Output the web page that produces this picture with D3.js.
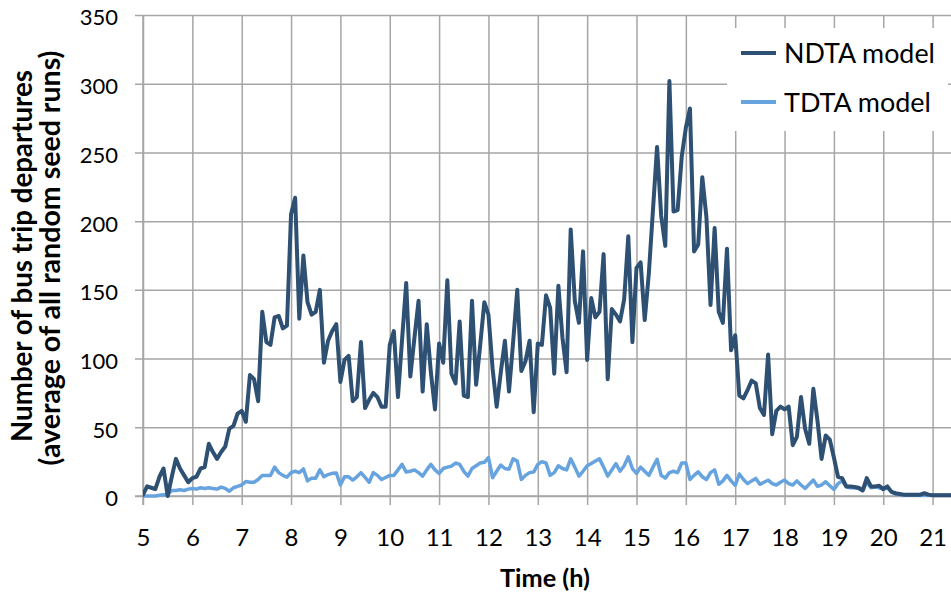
<!DOCTYPE html>
<html><head><meta charset="utf-8">
<script src="https://cdn.jsdelivr.net/npm/d3@7"></script>
<style>
body{margin:0;background:#fff}
svg{display:block}
text{font-family:Lato,"Open Sans",sans-serif;fill:#000}
</style>
</head><body>
<svg id="c" width="951" height="595"></svg>
<script>
// ---- data ----
const xTickLabels = [5,6,7,8,9,10,11,12,13,14,15,16,17,18,19,20,21];
const yTickValues = [0,50,100,150,200,250,300,350];
const seriesNames = ["NDTA model","TDTA model"];
const startHour = 5;          // first 5-minute interval
const stepMinutes = 5;
const ndta = [
1,7,6,5,14,20,0,14,27,20,15,10,13,14,20,21,38,32,27,32,36,49,51,60,
62,54,88,85,69,134,112,110,130,131,122,124,205,217,129,175,141,132,134,150,97,113,120,125,
83,99,102,69,72,112,64,70,75,72,65,65,110,120,72,114,155,87,115,142,76,125,90,63,
111,97,157,89,82,127,73,72,142,81,110,141,132,93,65,90,113,76,112,150,91,98,113,61,
111,110,146,137,89,153,115,90,194,142,126,178,99,144,130,134,176,85,136,132,127,143,189,112,
166,170,128,162,208,254,204,182,302,207,208,247,268,282,178,183,232,203,139,195,134,126,180,106,
117,73,71,77,84,82,64,59,103,45,62,65,63,65,37,43,72,49,38,78,55,27,44,41,
28,14,13,7,7,6.5,6,4,13,7,7,7.5,5,7,3,2,1.5,1,1,1,1,1,2,1,
0.5,0.5,0.5,0.5,0.5,0.5
];
const tdta = [
0,0,0,0,0.5,1,1,4,4,4.5,4,5,5.5,5,6,5.5,6,5.5,5,6.5,5.5,3.5,6,7,
8,10.5,10,10,12,15,15,15,21,17,15,13.7,17,18,17,19.7,11,13,13,19,14,15.6,16.5,16.8,
8,14,14,11.6,14,17,13.5,10,17,15,12,13.5,15,15,19,23,17.4,18,19,17,14.5,19,23,19,
16.5,20,21,21.7,24,23,18,14.5,20,22,24,24.5,28,13.3,18,22.5,20,19.5,27,25.4,12,15,17,17.4,
23,25,24,15,17,22,20,19,27,21,14.5,18,22,23.7,25.5,27,21,14.5,19,23.5,18,22,28.5,20,
16.4,21,18,15,21,26.7,15,13,17,18,17,24,24,12,15,17.5,14,12,17,19,8.5,11,15,11,
7.7,16,12,9,11,12.8,8.5,10,11.5,9,8,10,11.6,9,8,11,8,5.5,8.5,11.6,7,8,10.4,7.5,
4.8,9,11,6.7,6,6,5.5,4,10,6,6.5,6,5,6,3,1.5,1,0.5,0.5,0.5,0.5,0.5,0.5,0.5,
0.5,0.5,0.5,0.5,0.5,0.5
];
const seriesColors = ["#2d5073","#66a3df"];

// ---- chart ----
const svg = d3.select("#c");
const W = 951, H = 595;
const x = d3.scaleLinear().domain([5,21]).range([143,932.6]);
const y = d3.scaleLinear().domain([0,350]).range([496,15]);
const hourOf = i => startHour + i*stepMinutes/60;
const gridColor = "#a6a6a6";
const FONT = "Lato,'Open Sans',sans-serif";

svg.append("defs").append("clipPath").attr("id","clip")
  .append("rect").attr("x",143).attr("y",0).attr("width",W-143).attr("height",500);

// horizontal gridlines + y axis ticks/labels
const gy = svg.append("g").attr("transform","translate(143,0)")
  .call(d3.axisLeft(y).tickValues(yTickValues).tickSizeInner(-(W-143)).tickSizeOuter(0).tickPadding(0));
gy.select(".domain").remove();
gy.selectAll(".tick line").attr("stroke",gridColor).attr("stroke-width",1.5).attr("x1",-8);
gy.selectAll(".tick text").attr("x",-25).attr("dy","0.45em").attr("font-size",22).attr("fill","#000")
  .style("font-family",FONT);

// vertical gridlines + x axis ticks/labels
const gx = svg.append("g").attr("transform","translate(0,496)")
  .call(d3.axisBottom(x).tickValues(xTickLabels).tickSizeInner(9).tickSizeOuter(0).tickFormat(d3.format("d")));
gx.select(".domain").remove();
gx.selectAll(".tick line").attr("stroke",gridColor).attr("stroke-width",1.5).attr("y1",-(496-15));
gx.selectAll(".tick text").attr("y",50).attr("dy",null).attr("font-size",24).attr("fill","#000")
  .style("font-family",FONT);

// axis lines
svg.append("line").attr("x1",135).attr("x2",W).attr("y1",y(0)).attr("y2",y(0))
  .attr("stroke",gridColor).attr("stroke-width",1.5);
svg.append("line").attr("x1",143).attr("x2",143).attr("y1",y(350)).attr("y2",y(0)+9)
  .attr("stroke",gridColor).attr("stroke-width",1.5);

// legend background (hides gridlines)
svg.append("rect").attr("x",727).attr("y",28).attr("width",221).attr("height",103).attr("fill","#fff");

// lines
const line = d3.line().x((d,i)=>x(hourOf(i))).y(d=>y(d));
const plot = svg.append("g").attr("clip-path","url(#clip)");
plot.append("path").datum(tdta).attr("d",line).attr("fill","none")
  .attr("stroke",seriesColors[1]).attr("stroke-width",3.5).attr("stroke-linejoin","round").attr("stroke-linecap","round");
plot.append("path").datum(ndta).attr("d",line).attr("fill","none")
  .attr("stroke",seriesColors[0]).attr("stroke-width",4).attr("stroke-linejoin","round").attr("stroke-linecap","round");

function fitWidth(sel, target){
  const w = sel.node().getComputedTextLength();
  const fs = parseFloat(sel.attr("font-size"));
  sel.attr("font-size", fs*target/w);
}

// legend
const legY = [53,102], legW = [151,147];
seriesNames.forEach((n,k)=>{
  svg.append("line").attr("x1",741).attr("x2",776).attr("y1",legY[k]).attr("y2",legY[k])
    .attr("stroke",seriesColors[k]).attr("stroke-width",4);
  const t = svg.append("text").attr("x",784).attr("y",legY[k]).attr("dy","0.36em")
    .attr("font-size",24).text(n);
  fitWidth(t, legW[k]);
});

// axis titles
const xt = svg.append("text").attr("x",545).attr("y",578).attr("dy","0.35em")
  .attr("text-anchor","middle").attr("font-weight","bold").attr("font-size",21).text("Time (h)");
fitWidth(xt, 90);
const yt1 = svg.append("text").attr("transform","translate(22,256) rotate(-90)").attr("dy","0.35em")
  .attr("text-anchor","middle").attr("font-weight","bold").attr("font-size",21).text("Number of bus trip departures");
fitWidth(yt1, 372);
const yt2 = svg.append("text").attr("transform","translate(50,258) rotate(-90)").attr("dy","0.35em")
  .attr("text-anchor","middle").attr("font-weight","bold").attr("font-size",21).text("(average of all random seed runs)");
fitWidth(yt2, 415);
</script>
</body></html>
